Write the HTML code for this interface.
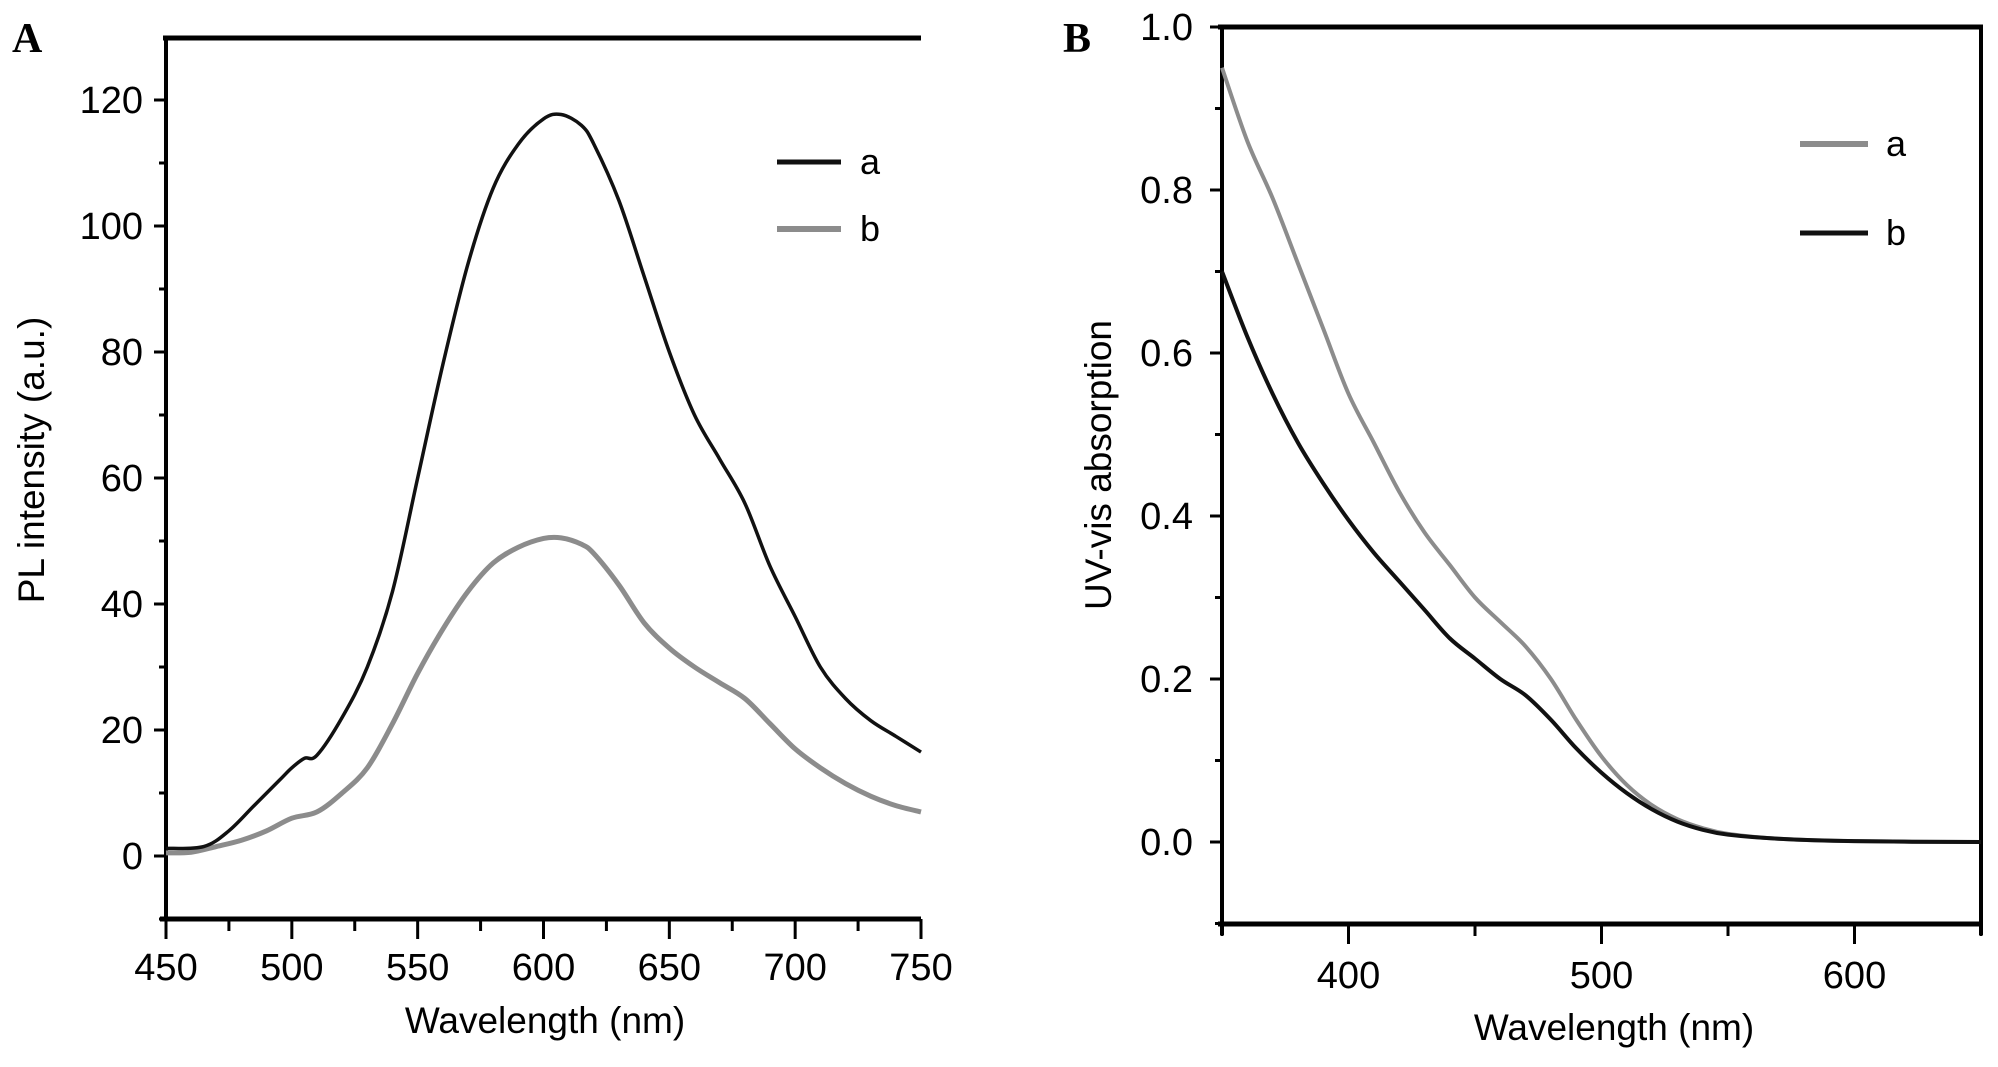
<!DOCTYPE html>
<html><head><meta charset="utf-8"><style>
html,body{margin:0;padding:0;background:#fff;}
svg{display:block;font-family:"Liberation Sans",Arial,sans-serif;}
</style></head><body>
<svg id="chart" width="1998" height="1067" viewBox="0 0 1998 1067">
<g id="pa"></g>
<g id="pb"></g>
</svg>
<script>
// Panel A data
const aX = [450,465,475,485,495,500,505,510,520,530,540,550,560,570,580,590,600,607,615,620,630,640,650,660,670,680,690,700,710,720,730,740,750];
const aSeriesA = [1.2,1.5,4,8,12,14,15.5,16,22,30,42,60,78,94,106,113,117,117.7,116,113,104,92,80,70,63,56,46,38,30,25,21.5,19,16.5];
const bX = [450,460,470,480,490,500,510,520,530,540,550,560,570,580,590,600,607,615,620,630,640,650,660,670,680,690,700,710,720,730,740,750];
const aSeriesB = [0.5,0.6,1.5,2.5,4,6,7,10,14,21,29,36,42,46.5,49,50.4,50.5,49.5,48,43,37,33,30,27.5,25,21,17,14,11.5,9.5,8,7];
const aXTicks = [450,500,550,600,650,700,750];
const aYTicks = [0,20,40,60,80,100,120];
// Panel B data
const uvX = [350,360,370,380,390,400,410,420,430,440,450,460,470,480,490,500,510,520,530,540,550,570,600,650];
const uvA = [0.95,0.86,0.79,0.71,0.63,0.55,0.49,0.43,0.38,0.34,0.30,0.27,0.24,0.20,0.15,0.105,0.07,0.045,0.028,0.017,0.01,0.004,0.001,0];
const uvB = [0.70,0.62,0.55,0.49,0.44,0.395,0.355,0.32,0.285,0.25,0.225,0.2,0.18,0.15,0.115,0.085,0.06,0.04,0.025,0.015,0.009,0.004,0.001,0];
const bXTicks = [400,500,600];
const bYTicks = ["0.0","0.2","0.4","0.6","0.8","1.0"];

const NS="http://www.w3.org/2000/svg";
function mk(parent,tag,attrs,text){const e=document.createElementNS(NS,tag);for(const k in attrs)e.setAttribute(k,attrs[k]);if(text!==undefined)e.textContent=text;parent.appendChild(e);return e;}
function smooth(pts){
  let d='M'+pts[0][0]+' '+pts[0][1];
  for(let i=0;i<pts.length-1;i++){
    const p0=pts[Math.max(0,i-1)],p1=pts[i],p2=pts[i+1],p3=pts[Math.min(pts.length-1,i+2)];
    const c1x=p1[0]+(p2[0]-p0[0])/6,c1y=p1[1]+(p2[1]-p0[1])/6;
    const c2x=p2[0]-(p3[0]-p1[0])/6,c2y=p2[1]-(p3[1]-p1[1])/6;
    d+=' C'+c1x+' '+c1y+' '+c2x+' '+c2y+' '+p2[0]+' '+p2[1];
  }
  return d;
}

const AX=v=>166+(v-450)*(921-166)/300;
const AY=v=>856-(v)*(856-100)/120;
const BX=v=>1222+(v-350)*(1981-1222)/300;
const BY=v=>842-v*(842-27)/1.0;

const pa=document.getElementById('pa'), pb=document.getElementById('pb');

let e;
e=mk(pa,'line',{x1:163,y1:38,x2:921,y2:38,stroke:'#000','stroke-width':5});


e=mk(pa,'line',{x1:166,y1:36,x2:166,y2:921,stroke:'#000','stroke-width':4});


e=mk(pa,'line',{x1:160,y1:919,x2:921,y2:919,stroke:'#000','stroke-width':5});


for(let v=450;v<=750;v+=25){const maj=(v%50===0);
 e=mk(pa,'line',{x1:AX(v),y1:919,x2:AX(v),y2:919+(maj?20:12),stroke:'#000','stroke-width':3});
 
 }
aXTicks.forEach(v=>{e=mk(pa,'text',{x:AX(v),y:980,'font-size':38,'text-anchor':'middle'},String(v));
 
 });
for(let v=-10;v<=120;v+=10){const maj=(v%20===0);
 e=mk(pa,'line',{x1:166,y1:AY(v),x2:166-(maj?12:7),y2:AY(v),stroke:'#000','stroke-width':3});
 
 }
aYTicks.forEach(v=>{e=mk(pa,'text',{x:143,y:AY(v)+13,'font-size':38,'text-anchor':'end'},String(v));
 
 });
e=mk(pa,'text',{x:545,y:1033,'font-size':37,'text-anchor':'middle'},'Wavelength (nm)');


e=mk(pa,'text',{x:0,y:0,'font-size':37,'text-anchor':'middle',transform:'translate(44,460) rotate(-90)'},'PL intensity (a.u.)');


e=mk(pa,'text',{x:12,y:52,'font-size':42,'font-weight':'bold','font-family':'Liberation Serif,serif'},'A');


e=mk(pa,'path',{d:smooth(bX.map((x,i)=>[AX(x),AY(aSeriesB[i])])),fill:'none',stroke:'#8c8c8c','stroke-width':5,'stroke-linejoin':'round'});


e=mk(pa,'path',{d:smooth(aX.map((x,i)=>[AX(x),AY(aSeriesA[i])])),fill:'none',stroke:'#111','stroke-width':3.5,'stroke-linejoin':'round'});


e=mk(pa,'line',{x1:777,y1:162,x2:841,y2:162,stroke:'#111','stroke-width':5});


e=mk(pa,'text',{x:860,y:174,'font-size':36},'a');


e=mk(pa,'line',{x1:777,y1:229,x2:841,y2:229,stroke:'#8c8c8c','stroke-width':6});


e=mk(pa,'text',{x:860,y:241,'font-size':36},'b');



e=mk(pb,'line',{x1:1218,y1:27,x2:1983,y2:27,stroke:'#000','stroke-width':5});


e=mk(pb,'line',{x1:1222,y1:25,x2:1222,y2:935,stroke:'#000','stroke-width':4});


e=mk(pb,'line',{x1:1981,y1:25,x2:1981,y2:935,stroke:'#000','stroke-width':4});


e=mk(pb,'line',{x1:1218,y1:924,x2:1983,y2:924,stroke:'#000','stroke-width':5});


for(let v=350;v<=650;v+=50){const maj=(v%100===0);
 e=mk(pb,'line',{x1:BX(v),y1:924,x2:BX(v),y2:924+(maj?20:12),stroke:'#000','stroke-width':3});
 
 }
bXTicks.forEach(v=>{e=mk(pb,'text',{x:BX(v),y:988,'font-size':38,'text-anchor':'middle'},String(v));
 
 });
for(let i=-1;i<=10;i++){const v=i/10;const maj=(i%2===0);
 e=mk(pb,'line',{x1:1222,y1:BY(v),x2:1222-(maj?12:7),y2:BY(v),stroke:'#000','stroke-width':3});
 
 }
bYTicks.forEach(t=>{e=mk(pb,'text',{x:1193,y:BY(parseFloat(t))+13,'font-size':38,'text-anchor':'end'},t);
 
 });
e=mk(pb,'text',{x:1614,y:1040,'font-size':37,'text-anchor':'middle'},'Wavelength (nm)');


e=mk(pb,'text',{x:0,y:0,'font-size':37,'text-anchor':'middle',transform:'translate(1111,465) rotate(-90)'},'UV-vis absorption');


e=mk(pb,'text',{x:1063,y:52,'font-size':42,'font-weight':'bold','font-family':'Liberation Serif,serif'},'B');


e=mk(pb,'path',{d:smooth(uvX.map((x,i)=>[BX(x),BY(uvA[i])])),fill:'none',stroke:'#8c8c8c','stroke-width':4,'stroke-linejoin':'round'});


e=mk(pb,'path',{d:smooth(uvX.map((x,i)=>[BX(x),BY(uvB[i])])),fill:'none',stroke:'#111','stroke-width':4,'stroke-linejoin':'round'});


e=mk(pb,'line',{x1:1800,y1:144,x2:1868,y2:144,stroke:'#8c8c8c','stroke-width':6});


e=mk(pb,'text',{x:1886,y:156,'font-size':36},'a');


e=mk(pb,'line',{x1:1800,y1:233,x2:1868,y2:233,stroke:'#111','stroke-width':5});


e=mk(pb,'text',{x:1886,y:245,'font-size':36},'b');


</script>
</body></html>
